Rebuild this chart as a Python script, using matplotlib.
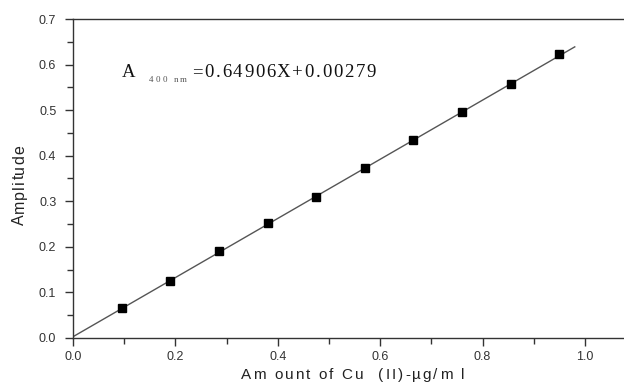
import matplotlib
matplotlib.use("Agg")
import matplotlib.pyplot as plt
from matplotlib.ticker import MultipleLocator
from matplotlib.font_manager import FontProperties
import numpy as np

conc = [0.095, 0.19, 0.285, 0.38, 0.475, 0.57, 0.665, 0.76, 0.855, 0.95]
amp = [0.065, 0.125, 0.19, 0.252, 0.31, 0.372, 0.435, 0.497, 0.558, 0.623]
slope = 0.64906
intercept = 0.00279
fit_x = [0.0, 0.98]
x_ticks = [0.0, 0.2, 0.4, 0.6, 0.8, 1.0]
y_ticks = [0.0, 0.1, 0.2, 0.3, 0.4, 0.5, 0.6, 0.7]
x_label = 'Am ount of Cu  (II)-µg/m l'
y_label = 'Amplitude'
eq_main = '=0.64906X+0.00279'

W, H = 624, 383
fig = plt.figure(figsize=(W/100, H/100), dpi=100)
left = 73 / W
bottom = (H - 338) / H
height = (338 - 19) / H
xmax = 1.1
width = xmax * 512 / W
ax = fig.add_axes([left, bottom, width, height])

fx = np.array(fit_x)
ax.plot(fx, slope * fx + intercept, color='#555555', lw=1.0, zorder=2)
ax.plot(conc, amp, 's', color='black', ms=6, zorder=3)

ax.set_xlim(0, xmax)
ax.set_ylim(0, 0.7)
ax.xaxis.set_minor_locator(MultipleLocator(0.1))
ax.yaxis.set_minor_locator(MultipleLocator(0.05))
ax.set_xticks(x_ticks)
ax.set_xticklabels([f'{v:.1f}' for v in x_ticks])
ax.set_yticks(y_ticks)
ax.set_yticklabels([f'{v:.1f}' for v in y_ticks])
for s in ax.spines.values():
    s.set_color('#333333')
    s.set_linewidth(1.0)
ax.tick_params(axis='x', which='major', pad=3)
ax.tick_params(axis='y', which='major', pad=6)
ax.tick_params(which='major', direction='out', length=6, width=1, colors='#333333',
               labelsize=9, labelcolor='#333333')
ax.tick_params(which='minor', direction='out', length=4, width=1, colors='#333333')
for lab in ax.get_xticklabels() + ax.get_yticklabels():
    lab.set_family('Liberation Sans')

renderer = fig.canvas.get_renderer()


def adv(t, fp):
    bw = renderer.get_text_width_height_descent('|', fp, ismath=False)[0]
    return renderer.get_text_width_height_descent(t + '|', fp, ismath=False)[0] - bw


def tracked(s, start, end, base, size, family, color, vertical=False):
    """Draw string s letter-spaced between pixel positions start and end."""
    fp = FontProperties(family=family, size=size)
    natural = adv(s, fp)
    track = max((abs(end - start) - natural) / max(len(s) - 1, 1), 0.0)
    for i, ch in enumerate(s):
        if ch == ' ':
            continue
        off = adv(s[:i], fp) + i * track if i > 0 else 0.0
        if vertical:
            fig.text(base / W, (H - (start - off)) / H, ch, fontproperties=fp, color=color,
                     rotation=90, rotation_mode='anchor', ha='left', va='baseline')
        else:
            fig.text((start + off) / W, (H - base) / H, ch, fontproperties=fp, color=color,
                     ha='left', va='baseline')


# equation
tracked('A', 122, 133, 77, 13.5, 'Liberation Serif', '#111111')
tracked('400 nm', 149, 187, 82, 6.5, 'Liberation Serif', '#555555')
tracked(eq_main, 192, 376, 77, 13.5, 'Liberation Serif', '#111111')

# axis labels
tracked(x_label, 241, 464, 379, 11, 'Liberation Sans', '#222222')
tracked(y_label, 225, 145, 24, 11.5, 'Liberation Sans', '#222222', vertical=True)

fig.savefig('out.png', dpi=100)
